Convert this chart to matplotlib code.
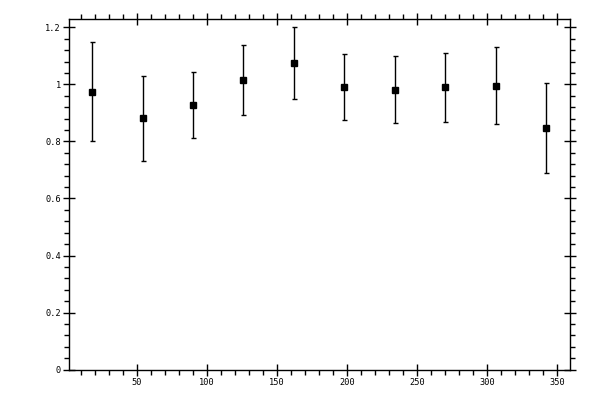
import matplotlib
matplotlib.use('Agg')
import matplotlib.pyplot as plt
from matplotlib.ticker import MultipleLocator, FuncFormatter

# data
x = [18, 54, 90, 126, 162, 198, 234, 270, 306, 342]
y = [0.972, 0.881, 0.926, 1.014, 1.074, 0.989, 0.979, 0.989, 0.993, 0.846]
y_hi = [1.147, 1.028, 1.043, 1.138, 1.201, 1.106, 1.098, 1.109, 1.130, 1.005]
y_lo = [0.800, 0.733, 0.812, 0.891, 0.947, 0.874, 0.863, 0.867, 0.860, 0.691]

err_lo = [a - b for a, b in zip(y, y_lo)]
err_hi = [b - a for a, b in zip(y, y_hi)]

fig = plt.figure(figsize=(6, 4), dpi=100)
ax = fig.add_axes([0.1158, 0.0758, 0.8347, 0.876])

ax.errorbar(x, y, yerr=[err_lo, err_hi], fmt='s', color='black',
            markersize=5.0, elinewidth=1.0, capsize=1.8, capthick=1.0)

ax.set_xlim(1.8, 359.4)
ax.set_ylim(0, 1.228)

ax.xaxis.set_major_locator(MultipleLocator(50))
ax.xaxis.set_minor_locator(MultipleLocator(10))
ax.yaxis.set_major_locator(MultipleLocator(0.2))
ax.yaxis.set_minor_locator(MultipleLocator(0.04))
ax.yaxis.set_major_formatter(FuncFormatter(lambda v, p: f'{v:g}'))

for s in ax.spines.values():
    s.set_linewidth(1.0)

ax.tick_params(which='major', direction='inout', length=8, width=1.0,
               top=True, right=True, labelsize=6.2, pad=2)
ax.tick_params(which='minor', direction='out', length=3.5, width=1.0,
               top=True, right=True)
for lab in ax.get_xticklabels() + ax.get_yticklabels():
    lab.set_family('DejaVu Sans Mono')

fig.savefig('out.png', dpi=100)
